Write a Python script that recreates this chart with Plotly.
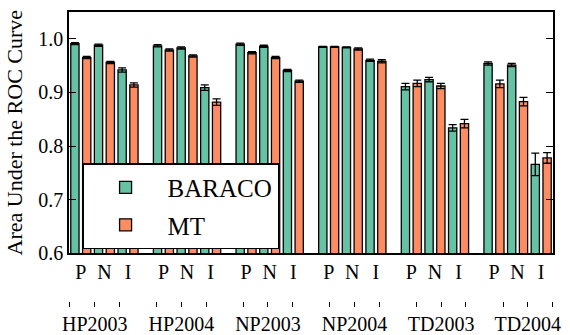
import plotly.graph_objects as go

# ---- data ----
datasets = ["HP2003", "HP2004", "NP2003", "NP2004", "TD2003", "TD2004"]
categories = ["P", "N", "I"]
series_names = ["BARACO", "MT"]

baraco = [0.991, 0.988, 0.942,
          0.987, 0.983, 0.909,
          0.990, 0.986, 0.941,
          0.985, 0.984, 0.960,
          0.911, 0.924, 0.834,
          0.954, 0.951, 0.766]
baraco_err = [0.002, 0.002, 0.004,
              0.002, 0.002, 0.005,
              0.002, 0.002, 0.002,
              0.001, 0.001, 0.002,
              0.006, 0.004, 0.006,
              0.003, 0.003, 0.021]
mt = [0.965, 0.956, 0.914,
      0.979, 0.968, 0.882,
      0.974, 0.965, 0.921,
      0.985, 0.981, 0.958,
      0.917, 0.912, 0.842,
      0.916, 0.883, 0.778]
mt_err = [0.002, 0.002, 0.004,
          0.002, 0.002, 0.006,
          0.002, 0.002, 0.002,
          0.001, 0.002, 0.003,
          0.006, 0.005, 0.008,
          0.007, 0.008, 0.010]

colors = ["#66c2a5", "#fc8d62"]
FONT = "Liberation Serif"

# slot layout: each group has 3 pairs of bars plus one empty slot
slots_per_group = 2 * len(categories) + 1
def bar_x(offset):
    xs = []
    for g in range(len(datasets)):
        for c in range(len(categories)):
            xs.append(g * slots_per_group + 2 * c + offset)
    return xs

fig = go.Figure()
for i, (name, vals, errs) in enumerate(zip(series_names, [baraco, mt], [baraco_err, mt_err])):
    fig.add_trace(go.Bar(
        x=bar_x(i), y=vals, name=name, width=0.7, legendgroup=name,
        marker=dict(color=colors[i], line=dict(color="black", width=1.3)),
        error_y=dict(type="data", array=errs, visible=True, color="black",
                     thickness=1.3, width=4),
    ))

# invisible trace to activate secondary bottom axis
n_cat = len(categories)
sec_vals = [g * (n_cat + 0.5) + c for g in range(len(datasets)) for c in range(n_cat)]
sec_text = [datasets[g] if c == 1 else "" for g in range(len(datasets)) for c in range(n_cat)]
fig.add_trace(go.Scatter(x=[sec_vals[0]], y=[0.6], xaxis="x2", mode="markers",
                         marker=dict(opacity=0), showlegend=False, hoverinfo="skip"))

fig.update_layout(
    width=570, height=335,
    margin=dict(l=69, r=17, t=12, b=25, autoexpand=False),
    plot_bgcolor="white", paper_bgcolor="white",
    font=dict(family=FONT, size=20, color="black"),
    barmode="overlay",
    showlegend=True,
    legend=dict(x=0.027, y=0.493, xanchor="left", yanchor="top",
                bgcolor="white", bordercolor="black", borderwidth=1.5,
                font=dict(family=FONT, size=25), itemwidth=74,
                tracegroupgap=2),
    xaxis=dict(range=[-0.5, len(datasets) * slots_per_group - 1.5],
               tickmode="array",
               tickvals=[x + 0.5 for x in bar_x(0)],
               ticktext=categories * len(datasets),
               ticks="", showline=True, linecolor="black", linewidth=1.5,
               mirror=True, showgrid=False, zeroline=False, automargin=False,
               tickfont=dict(family=FONT, size=20)),
    xaxis2=dict(overlaying="x", anchor="free", position=0.03, side="bottom",
                range=[-0.04, 19.52], tickmode="array",
                tickvals=sec_vals, ticktext=sec_text,
                ticks="outside", ticklen=5, tickwidth=1, tickcolor="black",
                showline=False, showgrid=False, zeroline=False, automargin=False,
                tickfont=dict(family=FONT, size=20)),
    yaxis=dict(domain=[0.19, 1], range=[0.6, 1.05],
               tickvals=[0.6, 0.7, 0.8, 0.9, 1.0],
               ticktext=["0.6", "0.7", "0.8", "0.9", "1.0"],
               ticks="inside", ticklen=7, tickwidth=1, tickcolor="black",
               showline=True, linecolor="black", linewidth=1.5,
               mirror="ticks", showgrid=False, zeroline=False, automargin=False,
               title=dict(text="Area Under the ROC Curve",
                          font=dict(family=FONT, size=22), standoff=10),
               tickfont=dict(family=FONT, size=20)),
)

fig.write_html("out.html", config={"displayModeBar": False},
               post_script="document.body.style.margin='0px';document.body.style.overflow='hidden';")
